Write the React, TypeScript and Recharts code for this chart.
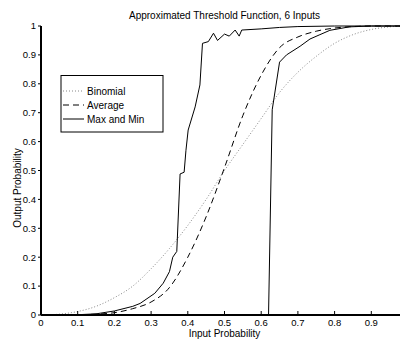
import { LineChart, Line, XAxis, YAxis } from "recharts";

// the figure is cropped just before x = 1, so the bottom labels stop at 0.9
const xTicks = [0, 0.1, 0.2, 0.3, 0.4, 0.5, 0.6, 0.7, 0.8, 0.9];
const topTicks = [0, 0.1, 0.2, 0.3, 0.4, 0.5, 0.6, 0.7, 0.8, 0.9, 1];
const yTicks = [0, 0.1, 0.2, 0.3, 0.4, 0.5, 0.6, 0.7, 0.8, 0.9, 1];

// Binomial (dotted)
const binomX = [0, 0.05, 0.1, 0.15, 0.2, 0.25, 0.3, 0.35, 0.4, 0.45, 0.5, 0.55, 0.6, 0.65, 0.7, 0.75, 0.8, 0.85, 0.9, 0.95, 1];
const binomY = [0, 0.003, 0.012, 0.03, 0.06, 0.1, 0.16, 0.23, 0.31, 0.4, 0.5, 0.59, 0.68, 0.77, 0.84, 0.895, 0.94, 0.97, 0.988, 0.997, 1];

// Average (dashed)
const avgX = [0, 0.05, 0.1, 0.15, 0.2, 0.25, 0.3, 0.35, 0.4, 0.45, 0.5, 0.55, 0.6, 0.65, 0.7, 0.75, 0.8, 0.85, 0.9, 0.95, 1];
const avgY = [0, 0, 0.001, 0.003, 0.008, 0.022, 0.045, 0.095, 0.2, 0.34, 0.51, 0.69, 0.83, 0.925, 0.962, 0.982, 0.993, 0.998, 1, 1, 1];

// Max and Min (solid)
const maxX = [0, 0.05, 0.1, 0.15, 0.2, 0.25, 0.27, 0.31, 0.333, 0.35, 0.359, 0.37, 0.379, 0.39, 0.395, 0.401, 0.42, 0.433, 0.44, 0.456, 0.47, 0.481, 0.5, 0.513, 0.529, 0.54, 0.547, 0.6, 0.65, 0.7, 0.8, 0.9, 1];
const maxY = [0, 0, 0.001, 0.004, 0.014, 0.03, 0.04, 0.075, 0.11, 0.15, 0.2, 0.22, 0.488, 0.494, 0.57, 0.64, 0.72, 0.796, 0.94, 0.946, 0.975, 0.95, 0.972, 0.965, 0.986, 0.965, 0.986, 0.99, 0.995, 0.998, 1, 1, 1];
const minX = [0, 0.62, 0.63, 0.65, 0.669, 0.706, 0.733, 0.76, 0.787, 0.84, 0.9, 1];
const minY = [0, 0, 0.71, 0.875, 0.9, 0.93, 0.955, 0.97, 0.985, 0.997, 1, 1];

const zip = (xs: number[], ys: number[]) => xs.map((x, i) => ({ x, y: ys[i] }));

const FONT = "'Liberation Sans', Arial, Helvetica, sans-serif";
const tickStyle = { fill: "#000", fontSize: 9.5, fontFamily: FONT };

function LegendBox() {
  const rows = [
    { label: "Binomial", dash: "1 2", color: "#888" },
    { label: "Average", dash: "6 4", color: "#000" },
    { label: "Max and Min", dash: undefined, color: "#000" },
  ];
  return (
    <g>
      <rect x={61} y={75.5} width={102} height={56.5} fill="#fff" stroke="#000" strokeWidth={1} />
      {rows.map((r, i) => {
        const cy = 91 + i * 14;
        return (
          <g key={r.label}>
            <line x1={63} x2={84} y1={cy} y2={cy} stroke={r.color} strokeDasharray={r.dash} strokeWidth={1} />
            <text x={87} y={cy + 3.5} fontSize={10} fontFamily={FONT} fill="#000">
              {r.label}
            </text>
          </g>
        );
      })}
    </g>
  );
}

export default function App() {
  return (
    <div style={{ position: "absolute", left: 0, top: 0, width: 400, height: 339, overflow: "hidden", background: "#fff" }}>
      <LineChart width={420} height={339} margin={{ top: 26, right: 12, bottom: 0, left: 0 }}>
        <XAxis
          dataKey="x"
          type="number"
          domain={[0, 1]}
          ticks={xTicks}
          interval={0}
          height={24}
          tickSize={-4}
          tickMargin={8}
          tick={tickStyle}
          axisLine={{ stroke: "#000", strokeWidth: 2 }}
          tickLine={{ stroke: "#000" }}
          tickFormatter={(v: number) => String(v)}
        />
        <XAxis
          xAxisId="top"
          orientation="top"
          type="number"
          domain={[0, 1]}
          ticks={topTicks}
          interval={0}
          height={0}
          tickSize={-3}
          tick={false}
          axisLine={{ stroke: "#000", strokeWidth: 1.5 }}
          tickLine={{ stroke: "#000" }}
        />
        <YAxis
          type="number"
          domain={[0, 1]}
          ticks={yTicks}
          interval={0}
          width={41}
          tickSize={3}
          tickMargin={2}
          tick={tickStyle}
          axisLine={{ stroke: "#000", strokeWidth: 2 }}
          tickLine={{ stroke: "#000" }}
          tickFormatter={(v: number) => String(v)}
        />
        <Line data={zip(binomX, binomY)} dataKey="y" type="monotone" stroke="#888" strokeWidth={1} strokeDasharray="1 2" dot={false} isAnimationActive={false} />
        <Line data={zip(avgX, avgY)} dataKey="y" type="monotone" stroke="#000" strokeWidth={1} strokeDasharray="6 4" dot={false} isAnimationActive={false} />
        <Line data={zip(maxX, maxY)} dataKey="y" type="linear" stroke="#000" strokeWidth={1} dot={false} isAnimationActive={false} />
        <Line data={zip(minX, minY)} dataKey="y" type="linear" stroke="#000" strokeWidth={1} dot={false} isAnimationActive={false} />
      </LineChart>
      <svg width={400} height={339} style={{ position: "absolute", left: 0, top: 0, pointerEvents: "none" }}>
        <text x={224.5} y={19} textAnchor="middle" fontSize={10} fontFamily={FONT} fill="#000">
          Approximated Threshold Function, 6 Inputs
        </text>
        <text x={224.5} y={337} textAnchor="middle" fontSize={10} fontFamily={FONT} fill="#000">
          Input Probability
        </text>
        <text transform="translate(21,188) rotate(-90)" textAnchor="middle" fontSize={10} fontFamily={FONT} fill="#000">
          Output Probability
        </text>
        <LegendBox />
      </svg>
    </div>
  );
}
